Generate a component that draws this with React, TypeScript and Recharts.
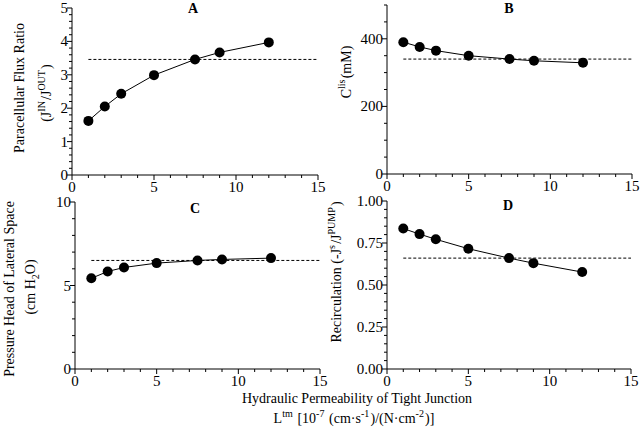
import React from "react";
import { ComposedChart, Scatter, XAxis, YAxis, ReferenceLine } from "recharts";

// L^tm values used in every panel
const permeability = [1, 2, 3, 5, 7.5, 9, 12];

const fluxRatio = [1.62, 2.05, 2.43, 2.99, 3.46, 3.67, 3.97];
const fluxRatioRef = 3.46;

const cLis = [390, 376, 365, 350, 340, 335, 329];
const cLisRef = 340;

const pressureHead = [5.43, 5.84, 6.08, 6.34, 6.5, 6.56, 6.64];
const pressureHeadRef = 6.5;

const recirculation = [0.836, 0.803, 0.772, 0.716, 0.66, 0.63, 0.577];
const recirculationRef = 0.66;

const xMajor = [0, 5, 10, 15];
const yMajorA = [0, 1, 2, 3, 4, 5];
const yMajorB = [0, 200, 400];
const yMajorC = [0, 5, 10];
const yMajorD = [0, 0.25, 0.5, 0.75, 1];

const FONT = "Liberation Serif";
const txt: React.CSSProperties = { fontFamily: FONT };

const steps = (max: number, step: number) => {
  const out: number[] = [];
  for (let i = 0; i * step <= max + 1e-9; i++) out.push(+(i * step).toFixed(4));
  return out;
};

const isMajor = (v: number, majors: number[]) => majors.some((m) => Math.abs(m - v) < 1e-6);

const makeXTick = (majors: number[]) => (props: any) => {
  const { x, y, payload } = props;
  const major = isMajor(payload.value, majors);
  return (
    <g>
      <line x1={x} y1={y} x2={x} y2={y + (major ? 5 : 3)} stroke="#000" />
      {major && (
        <text x={x} y={y + 17} textAnchor="middle" style={txt} fontSize={15} fill="#000">
          {payload.value}
        </text>
      )}
    </g>
  );
};

const makeYTick = (majors: number[], fmt: (v: number) => string) => (props: any) => {
  const { x, y, payload } = props;
  const major = isMajor(payload.value, majors);
  return (
    <g>
      <line x1={x} y1={y} x2={x - (major ? 5 : 3)} y2={y} stroke="#000" />
      {major && (
        <text x={x - 4} y={y + 5} textAnchor="end" style={txt} fontSize={15} fill="#000">
          {fmt(payload.value)}
        </text>
      )}
    </g>
  );
};

const Dot = (props: any) => <circle cx={props.cx} cy={props.cy} r={5} fill="#000" />;

interface PanelProps {
  values: number[];
  refValue: number;
  yMax: number;
  yStep: number;
  yMajor: number[];
  fmt: (v: number) => string;
  box: { left: number; right: number; top: number; bottom: number };
}

const Panel = ({ values, refValue, yMax, yStep, yMajor, fmt, box }: PanelProps) => {
  const data = permeability.map((x, i) => ({ x, y: values[i] }));
  const yW = 30;
  const xH = 30;
  return (
    <div style={{ position: "absolute", left: 0, top: 0 }}>
      <ComposedChart
        width={640}
        height={434}
        margin={{ left: box.left - yW, right: 640 - box.right, top: box.top, bottom: 434 - box.bottom - xH }}
      >
        <XAxis
          type="number"
          dataKey="x"
          domain={[0, 15]}
          ticks={steps(15, 1)}
          interval={0}
          height={xH}
          stroke="#000"
          tickLine={false}
          tickSize={0}
          tickMargin={0}
          tick={makeXTick(xMajor)}
        />
        <YAxis
          type="number"
          dataKey="y"
          domain={[0, yMax]}
          ticks={steps(yMax, yStep)}
          interval={0}
          width={yW}
          stroke="#000"
          tickLine={false}
          tickSize={0}
          tickMargin={0}
          tick={makeYTick(yMajor, fmt)}
        />
        <ReferenceLine
          segment={[
            { x: 1, y: refValue },
            { x: 15, y: refValue },
          ]}
          stroke="#000"
          strokeDasharray="3 2"
        />
        <Scatter
          data={data}
          line={{ stroke: "#000", strokeWidth: 1 }}
          lineType="joint"
          shape={Dot}
          isAnimationActive={false}
        />
      </ComposedChart>
    </div>
  );
};

const sup = (t: string) => (
  <>
    <tspan dy={-6} fontSize={10}>{t}</tspan>
    <tspan dy={6}>{"\u200a"}</tspan>
  </>
);

const Labels = () => (
  <svg
    width={640}
    height={434}
    style={{ position: "absolute", left: 0, top: 0, pointerEvents: "none", fontFamily: FONT }}
    fontSize={14}
    fill="#000"
  >
    <text x={193} y={13} textAnchor="middle" fontWeight="bold" fontSize={14}>A</text>
    <text x={509} y={13} textAnchor="middle" fontWeight="bold" fontSize={14}>B</text>
    <text x={195} y={213} textAnchor="middle" fontWeight="bold" fontSize={14}>C</text>
    <text x={508} y={210} textAnchor="middle" fontWeight="bold" fontSize={14}>D</text>

    <text x={24} y={88} textAnchor="middle" transform="rotate(-90 24 88)">Paracellular Flux Ratio</text>
    <text x={51} y={93} textAnchor="middle" transform="rotate(-90 51 93)">
      (J{sup("IN")}/J{sup("OUT")})
    </text>

    <text x={351} y={72} textAnchor="middle" transform="rotate(-90 351 72)">
      C{sup("lis")}(mM)
    </text>

    <text x={14} y={289} textAnchor="middle" transform="rotate(-90 14 289)">Pressure Head of Lateral Space</text>
    <text x={35} y={287} textAnchor="middle" transform="rotate(-90 35 287)">
      (cm H<tspan dy={4} fontSize={10}>2</tspan><tspan dy={-4}>O)</tspan>
    </text>

    <text x={341} y={272} textAnchor="middle" transform="rotate(-90 341 272)">
      Recirculation (-J{sup("s")}/J{sup("PUMP")})
    </text>

    <text x={357} y={403} textAnchor="middle">Hydraulic Permeability of Tight Junction</text>
    <text x={354} y={423} textAnchor="middle">
      L{sup("tm")} [10{sup("-7")} (cm·s{sup("-1")})/(N·cm{sup("-2")})]
    </text>
  </svg>
);

export default function App() {
  return (
    <div style={{ position: "absolute", left: 0, top: 0, width: 640, height: 434, background: "#fff", fontFamily: FONT }}>
      <Panel
        values={fluxRatio}
        refValue={fluxRatioRef}
        yMax={5}
        yStep={0.2}
        yMajor={yMajorA}
        fmt={(v) => String(v)}
        box={{ left: 72, right: 318, top: 8, bottom: 175 }}
      />
      <Panel
        values={cLis}
        refValue={cLisRef}
        yMax={500}
        yStep={50}
        yMajor={yMajorB}
        fmt={(v) => String(v)}
        box={{ left: 387, right: 632, top: 5, bottom: 174 }}
      />
      <Panel
        values={pressureHead}
        refValue={pressureHeadRef}
        yMax={10}
        yStep={1}
        yMajor={yMajorC}
        fmt={(v) => String(v)}
        box={{ left: 75, right: 320, top: 202, bottom: 369 }}
      />
      <Panel
        values={recirculation}
        refValue={recirculationRef}
        yMax={1}
        yStep={0.05}
        yMajor={yMajorD}
        fmt={(v) => v.toFixed(2)}
        box={{ left: 387, right: 631, top: 201, bottom: 369 }}
      />
      <Labels />
    </div>
  );
}
